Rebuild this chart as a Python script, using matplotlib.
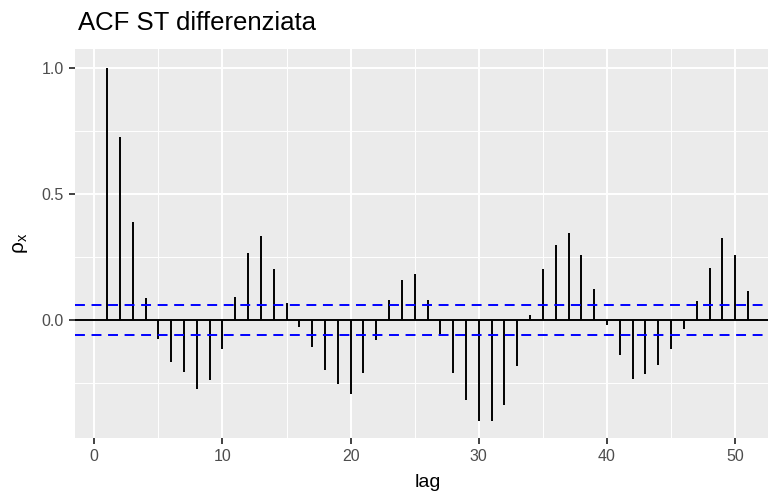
import matplotlib
matplotlib.use("Agg")
import matplotlib.pyplot as plt
import numpy as np

plt.rcParams['font.family'] = ['Liberation Sans', 'DejaVu Sans']
plt.rcParams['mathtext.fontset'] = 'custom'
plt.rcParams['mathtext.rm'] = 'Liberation Sans'
plt.rcParams['mathtext.it'] = 'Liberation Sans:italic'

# autocorrelation of the differenced series, lags 1..51
lags = np.arange(1, 52)
acf = [1.000, 0.727, 0.388, 0.089, -0.074, -0.167, -0.205, -0.274, -0.237, -0.114,
       0.093, 0.266, 0.333, 0.202, 0.066, -0.029, -0.106, -0.197, -0.255, -0.295,
       -0.209, -0.079, 0.078, 0.157, 0.181, 0.081, -0.057, -0.209, -0.316, -0.402,
       -0.402, -0.337, -0.181, 0.018, 0.201, 0.296, 0.347, 0.257, 0.124, -0.020,
       -0.139, -0.233, -0.214, -0.179, -0.114, -0.036, 0.074, 0.208, 0.327, 0.257,
       0.115]
conf = 0.061  # approx 1.96/sqrt(n)

W, H = 768, 493
fig = plt.figure(figsize=(W / 100, H / 100), dpi=100)
# panel runs slightly past the right edge of the figure
ax = fig.add_axes([75 / W, 1 - 438 / H, 705 / W, 389 / H])
ax.set_facecolor('#EBEBEB')

ax.set_xlim(-1.5, 53.5)
ax.set_ylim(-0.468, 1.075)

ax.set_xticks([0, 10, 20, 30, 40, 50])
ax.set_xticks([5, 15, 25, 35, 45], minor=True)
ax.set_yticks([0.0, 0.5, 1.0])
ax.set_yticklabels(['0.0', '0.5', '1.0'])
ax.set_yticks([-0.25, 0.25, 0.75], minor=True)

ax.grid(which='major', color='white', linewidth=1.4)
ax.grid(which='minor', color='white', linewidth=0.7)
ax.set_axisbelow(True)
for s in ax.spines.values():
    s.set_visible(False)

ax.tick_params(which='major', length=4, width=1.3, color='#333333',
               labelsize=11.5, labelcolor='#4D4D4D', pad=4)
ax.tick_params(which='minor', length=0)

ax.vlines(lags, 0, acf, color='black', linewidth=1.4)
ax.axhline(0, color='black', linewidth=1.4)
for c in (conf, -conf):
    ax.axhline(c, color='blue', linewidth=1.4, dashes=(5.1, 3.4))

fig.text(78 / W, 1 - 29.5 / H, 'ACF ST differenziata', fontsize=18.5,
         ha='left', va='baseline')
fig.text(428 / W, 1 - 487 / H, 'lag', fontsize=14, ha='center', va='baseline')
fig.text(21 / W, 1 - 243 / H, r'$\mathrm{\rho_x}$', fontsize=15,
         rotation=90, ha='center', va='center')

fig.savefig('out.png', dpi=100)
